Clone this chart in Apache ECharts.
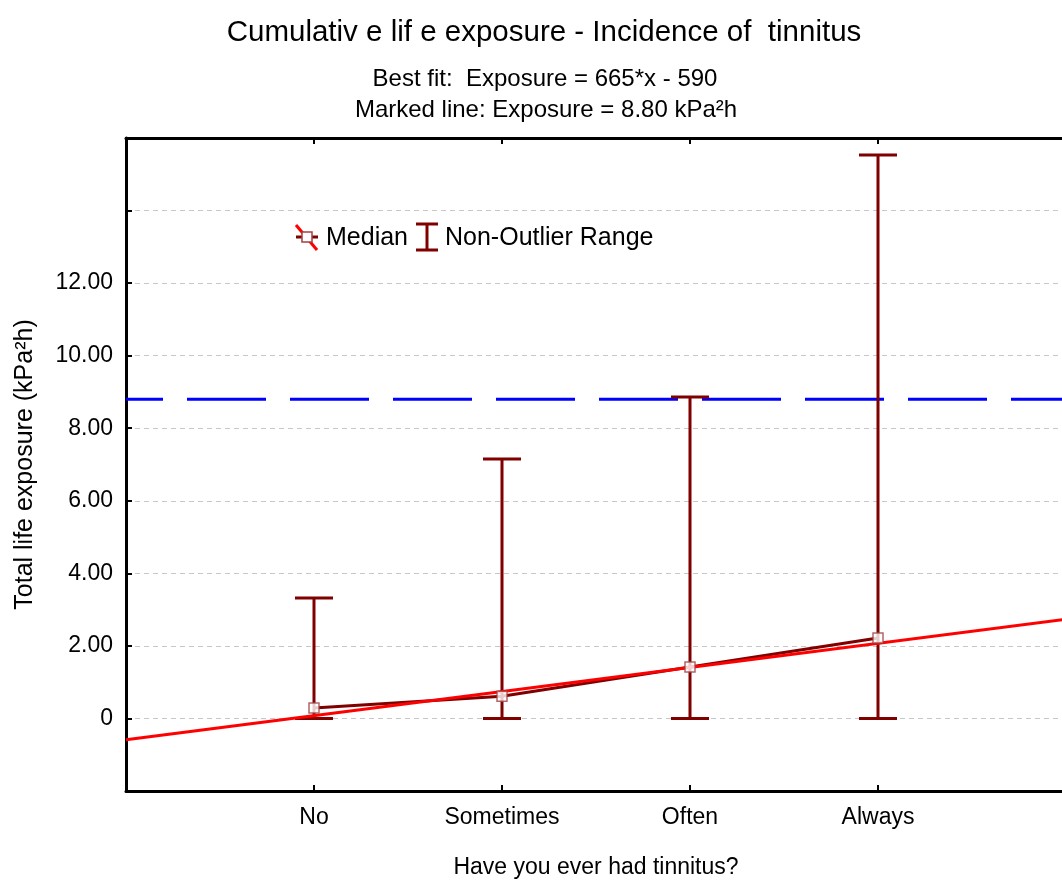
<!DOCTYPE html>
<html>
<head>
<meta charset="utf-8">
<script src="https://cdn.jsdelivr.net/npm/echarts@6/dist/echarts.min.js"></script>
<style>
  html, body { margin: 0; padding: 0; background: #fff; }
  #chart { width: 1062px; height: 880px; }
</style>
</head>
<body>
<div id="chart"></div>
<script>
// categories on the x axis (positions 1..4)
var categories = ['No', 'Sometimes', 'Often', 'Always'];
var catPos = [1, 2, 3, 4];
// medians (kPa2h)
var medians = [0.29, 0.61, 1.42, 2.22];
// non-outlier range
var rangeLow = [0, 0, 0, 0];
var rangeHigh = [3.32, 7.15, 8.86, 15.53];
// best fit line end points
var fitX = [0, 5];
var fitY = [-0.59, 2.735];
// marked line level
var markedLevel = 8.8;

var font = 'Liberation Sans, Arial, sans-serif';
var darkRed = '#800000';

var chart = echarts.init(document.getElementById('chart'));

var option = {
  animation: false,
  backgroundColor: '#fff',
  title: [
    { text: 'Cumulativ e lif e exposure - Incidence of  tinnitus', left: 539, top: 13, textAlign: 'center',
      textStyle: { fontFamily: font, fontSize: 29.5, fontWeight: 'normal', color: '#000' } },
    { text: 'Best fit:  Exposure = 665*x - 590', left: 540, top: 62, textAlign: 'center',
      textStyle: { fontFamily: font, fontSize: 24, fontWeight: 'normal', color: '#000' } },
    { text: 'Marked line: Exposure = 8.80 kPa\u00B2h', left: 541, top: 93, textAlign: 'center',
      textStyle: { fontFamily: font, fontSize: 24, fontWeight: 'normal', color: '#000' } }
  ],
  grid: { left: 126, top: 138, width: 940, height: 653, containLabel: false, outerBoundsMode: 'none' },
  xAxis: [
    {
      type: 'value', min: 0, max: 5, interval: 1, position: 'bottom',
      name: 'Have you ever had tinnitus?', nameLocation: 'middle', nameGap: 65,
      nameTextStyle: { fontFamily: font, fontSize: 23, color: '#000' },
      axisLine: { show: true, onZero: false, lineStyle: { color: '#000', width: 3 } },
      axisTick: { show: true, inside: true, length: 6, lineStyle: { color: '#000', width: 2 } },
      axisLabel: {
        fontFamily: font, fontSize: 23, color: '#000', margin: 15,
        formatter: function (v) { var i = catPos.indexOf(v); return i >= 0 ? categories[i] : ''; }
      },
      splitLine: { show: false }
    },
    {
      type: 'value', min: 0, max: 5, interval: 1, position: 'top',
      axisLine: { show: true, onZero: false, lineStyle: { color: '#000', width: 3 } },
      axisTick: { show: true, inside: true, length: 6, lineStyle: { color: '#000', width: 2 } },
      axisLabel: { show: false },
      splitLine: { show: false }
    }
  ],
  yAxis: {
    type: 'value', min: -2, max: 16, interval: 2,
    name: 'Total life exposure (kPa\u00B2h)', nameLocation: 'middle', nameGap: 88, nameRotate: 90,
    nameTextStyle: { fontFamily: font, fontSize: 25, color: '#000' },
    axisLine: { show: true, onZero: false, lineStyle: { color: '#000', width: 3 } },
    axisTick: { show: true, inside: true, length: 6, lineStyle: { color: '#000', width: 2 } },
    axisLabel: {
      fontFamily: font, fontSize: 23, color: '#000', margin: 13,
      formatter: function (v) {
        if (v < 0 || v > 12) return '';
        return v === 0 ? '0' : v.toFixed(2);
      }
    },
    splitLine: { show: true, showMinLine: false, showMaxLine: false,
      lineStyle: { color: '#c8c8c8', type: [5, 4], width: 1 } }
  },
  graphic: [
    // legend: median
    { type: 'line', shape: { x1: 296, y1: 237, x2: 318, y2: 237 }, style: { stroke: darkRed, lineWidth: 3 }, z: 100 },
    { type: 'line', shape: { x1: 296, y1: 225, x2: 317, y2: 250 }, style: { stroke: '#ff0000', lineWidth: 3 }, z: 101 },
    { type: 'rect', shape: { x: 302, y: 232, width: 10, height: 10 }, style: { fill: '#fff', stroke: '#a04040', lineWidth: 1.5 }, z: 102 },
    { type: 'text', x: 326, y: 238, style: { text: 'Median', fontFamily: font, fontSize: 25, fill: '#000', verticalAlign: 'middle' }, z: 100 },
    // legend: non-outlier range
    { type: 'line', shape: { x1: 427, y1: 224, x2: 427, y2: 250 }, style: { stroke: darkRed, lineWidth: 3 }, z: 100 },
    { type: 'line', shape: { x1: 416, y1: 224, x2: 438, y2: 224 }, style: { stroke: darkRed, lineWidth: 3 }, z: 100 },
    { type: 'line', shape: { x1: 416, y1: 250, x2: 438, y2: 250 }, style: { stroke: darkRed, lineWidth: 3 }, z: 100 },
    { type: 'text', x: 445, y: 238, style: { text: 'Non-Outlier Range', fontFamily: font, fontSize: 25, fill: '#000', verticalAlign: 'middle' }, z: 100 }
  ],
  series: [
    {
      name: 'Marked line', type: 'line',
      data: [[0, markedLevel], [5, markedLevel]],
      symbol: 'none',
      lineStyle: { color: '#0000ff', width: 3, type: [79, 24], dashOffset: 42 },
      z: 2
    },
    {
      name: 'Non-Outlier Range', type: 'custom',
      data: catPos.map(function (x, i) { return [x, rangeLow[i], rangeHigh[i]]; }),
      renderItem: function (params, api) {
        var x = api.value(0);
        var lo = api.coord([x, api.value(1)]);
        var hi = api.coord([x, api.value(2)]);
        var w = 19;
        var st = { stroke: darkRed, lineWidth: 3 };
        return {
          type: 'group',
          children: [
            { type: 'line', shape: { x1: lo[0], y1: lo[1], x2: hi[0], y2: hi[1] }, style: st },
            { type: 'line', shape: { x1: lo[0] - w, y1: lo[1], x2: lo[0] + w, y2: lo[1] }, style: st },
            { type: 'line', shape: { x1: hi[0] - w, y1: hi[1], x2: hi[0] + w, y2: hi[1] }, style: st }
          ]
        };
      },
      z: 3
    },
    {
      name: 'Median', type: 'line',
      data: catPos.map(function (x, i) { return [x, medians[i]]; }),
      symbol: 'none',
      lineStyle: { color: darkRed, width: 3 },
      z: 4
    },
    {
      name: 'Best fit', type: 'line',
      data: fitX.map(function (x, i) { return [x, fitY[i]]; }),
      symbol: 'none',
      lineStyle: { color: '#ff0000', width: 3 },
      z: 5
    },
    {
      name: 'Median points', type: 'scatter',
      data: catPos.map(function (x, i) { return [x, medians[i]]; }),
      symbol: 'rect', symbolSize: 10,
      itemStyle: { color: '#fff', borderColor: '#a04040', borderWidth: 1.5 },
      z: 6
    }
  ]
};

chart.setOption(option);
</script>
</body>
</html>
